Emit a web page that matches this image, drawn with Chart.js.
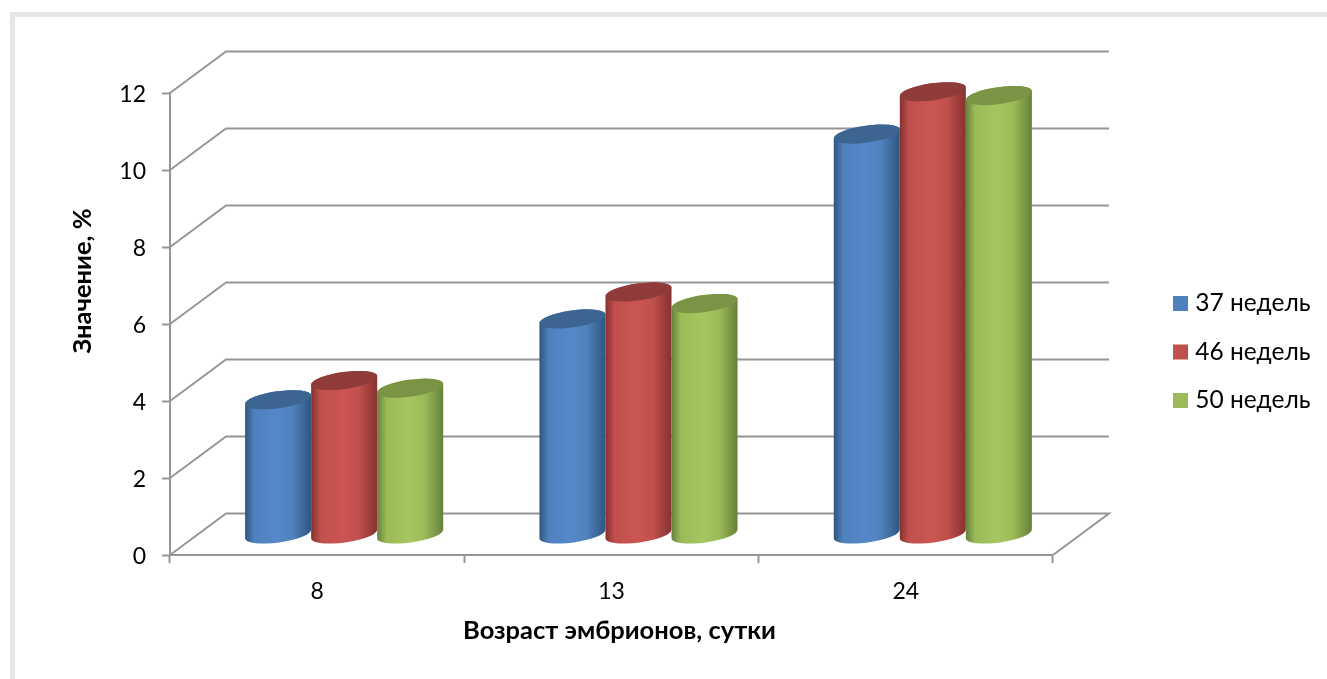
<!DOCTYPE html>
<html lang="ru">
<head>
<meta charset="utf-8">
<title>Значение по возрасту эмбрионов</title>
<script src="https://cdn.jsdelivr.net/npm/chart.js@4/dist/chart.umd.min.js"></script>
<style>
  html, body { margin: 0; padding: 0; background: #fff; }
  #wrap { position: relative; width: 1327px; height: 679px; overflow: hidden; }
  #wrap::before {
    content: ""; position: absolute; left: 10px; top: 12px; width: 1400px; height: 800px;
    border: 5px solid #e6e6e6; box-sizing: border-box;
  }
  canvas { position: absolute; left: 0; top: 0; }
</style>
</head>
<body>
<div id="wrap"><canvas id="chart" width="1327" height="679"></canvas></div>
<script>
// ------------------------------------------------------------
// DATA
// ------------------------------------------------------------
const ages = ["8", "13", "24"];
const weeks37 = [3.5, 5.6, 10.4];
const weeks46 = [4.0, 6.3, 11.5];
const weeks50 = [3.8, 6.0, 11.4];
const seriesNames = ["37 недель", "46 недель", "50 недель"];
const yTicks = [0, 2, 4, 6, 8, 10, 12];
const xTitle = "Возраст эмбрионов, сутки";
const yTitle = "Значение, %";

// flat colour, shaded edge, middle highlight, top cap
const seriesColors = [
  { base: "#4f81bd", edge: "#2f5580", light: "#5488c8", cap: "#3d6591" },
  { base: "#c0504d", edge: "#86312f", light: "#cb5552", cap: "#8f3b39" },
  { base: "#9bbb59", edge: "#66803a", light: "#a4c65f", cap: "#7a9345" },
];

const FONT = "Lato, 'Noto Sans', sans-serif";
const LINE = "#969696";

// depth of the box and of the bars standing in the middle of it
const DEPTH_X = 56, DEPTH_Y = 41.5;
const BAR_X = 27, BAR_Y = 20.5;
const TILT = -8 * Math.PI / 180;
const CAP_RY = 8.5;

// ------------------------------------------------------------
// 3D BOX (diagonals and back wall lines)
// ------------------------------------------------------------
const boxPlugin = {
  id: "box",
  beforeDatasetsDraw(chart) {
    const { x, y } = chart.scales;
    const ctx = chart.ctx;
    ctx.save();
    ctx.strokeStyle = LINE;
    ctx.lineWidth = 2;
    yTicks.forEach((t) => {
      const py = y.getPixelForValue(t);
      ctx.beginPath();
      ctx.moveTo(x.left, py);
      ctx.lineTo(x.left + DEPTH_X, py - DEPTH_Y);
      ctx.lineTo(x.right + DEPTH_X, py - DEPTH_Y);
      if (t === 0) ctx.lineTo(x.right, py);
      ctx.stroke();
    });
    ctx.restore();
  },
};

// ------------------------------------------------------------
// CYLINDERS
// ------------------------------------------------------------
function drawCylinder(ctx, bar, colors) {
  const cx = bar.x + BAR_X;
  const top = bar.y - BAR_Y;
  const bottom = bar.base - BAR_Y;
  const half = bar.width / 2;
  const rx = half / Math.cos(TILT);

  const grad = ctx.createLinearGradient(cx - half, 0, cx + half, 0);
  grad.addColorStop(0, colors.edge);
  grad.addColorStop(0.14, colors.base);
  grad.addColorStop(0.48, colors.light);
  grad.addColorStop(0.72, colors.base);
  grad.addColorStop(1, colors.edge);

  ctx.beginPath();
  ctx.ellipse(cx, bottom, rx, CAP_RY, TILT, Math.PI, 0, true);
  ctx.ellipse(cx, top, rx, CAP_RY, TILT, 0, Math.PI, true);
  ctx.closePath();
  ctx.fillStyle = grad;
  ctx.fill();

  ctx.beginPath();
  ctx.ellipse(cx, top, rx, CAP_RY, TILT, 0, Math.PI * 2);
  ctx.fillStyle = colors.cap;
  ctx.fill();
}

const cylinderPlugin = {
  id: "cylinders",
  // flat rectangles are replaced by the cylinders below
  beforeDatasetDraw() {
    return false;
  },
  afterDatasetsDraw(chart) {
    const ctx = chart.ctx;
    ctx.save();
    chart.data.datasets.forEach((ds, i) => {
      chart.getDatasetMeta(i).data.forEach((bar) => {
        drawCylinder(ctx, bar, seriesColors[i]);
      });
    });
    ctx.restore();
  },
};

// ------------------------------------------------------------
// AXIS TITLES AND LEGEND PLACEMENT
// ------------------------------------------------------------
const titlePlugin = {
  id: "titles",
  afterLayout(chart) {
    const lg = chart.legend;
    const shiftY = 352 - (lg.top + lg.bottom) / 2;
    lg.top += shiftY;
    lg.bottom += shiftY;
    const shiftX = 1154 - lg.left;
    lg.left += shiftX;
    lg.right += shiftX;
    // Lato sits high on a middle baseline, nudge the value labels down
    chart.scales.y.getLabelItems().forEach((item) => {
      item.options.translation[1] += 2;
    });
  },
  afterDraw(chart) {
    const ctx = chart.ctx;
    ctx.save();
    ctx.fillStyle = "#000";
    ctx.font = "bold 25.5px " + FONT;
    ctx.textAlign = "center";
    ctx.textBaseline = "middle";
    ctx.fillText(xTitle, 619.5, 631);
    ctx.translate(83, 281);
    ctx.rotate(-Math.PI / 2);
    ctx.fillText(yTitle, 0, 0);
    ctx.restore();
  },
};

// ------------------------------------------------------------
// CHART
// ------------------------------------------------------------
const seriesValues = [weeks37, weeks46, weeks50];

new Chart(document.getElementById("chart"), {
  type: "bar",
  data: {
    labels: ages,
    datasets: seriesNames.map((name, i) => ({
      label: name,
      data: seriesValues[i],
      backgroundColor: seriesColors[i].base,
      barPercentage: 1,
      categoryPercentage: 0.673,
    })),
  },
  options: {
    responsive: false,
    animation: false,
    layout: { padding: { left: 0, top: 93, right: 107.5, bottom: 0 } },
    plugins: {
      tooltip: { enabled: false },
      legend: {
        position: "right",
        labels: {
          // square marker sits closer to the text than a plain legend box
          usePointStyle: true,
          pointStyle: "rect",
          boxWidth: 5,
          boxHeight: 15,
          padding: 24,
          color: "#000",
          font: { family: FONT, size: 24.5 },
        },
      },
    },
    scales: {
      x: {
        afterFit(scale) { scale.height = 124; },
        grid: {
          offset: true,
          drawOnChartArea: false,
          tickLength: 8,
          tickColor: LINE,
          tickWidth: 2,
        },
        border: { color: LINE, width: 2 },
        ticks: {
          color: "#000",
          padding: 15,
          maxRotation: 0,
          font: { family: FONT, size: 23 },
        },
      },
      y: {
        min: 0,
        max: 12,
        afterFit(scale) { scale.width = 170; },
        afterBuildTicks(scale) { scale.ticks = yTicks.map((v) => ({ value: v })); },
        grid: {
          drawOnChartArea: false,
          tickLength: 8,
          tickColor: LINE,
          tickWidth: 2,
        },
        border: { color: LINE, width: 2 },
        ticks: {
          color: "#000",
          padding: 16,
          font: { family: FONT, size: 23 },
        },
      },
    },
  },
  plugins: [boxPlugin, cylinderPlugin, titlePlugin],
});
</script>
</body>
</html>
